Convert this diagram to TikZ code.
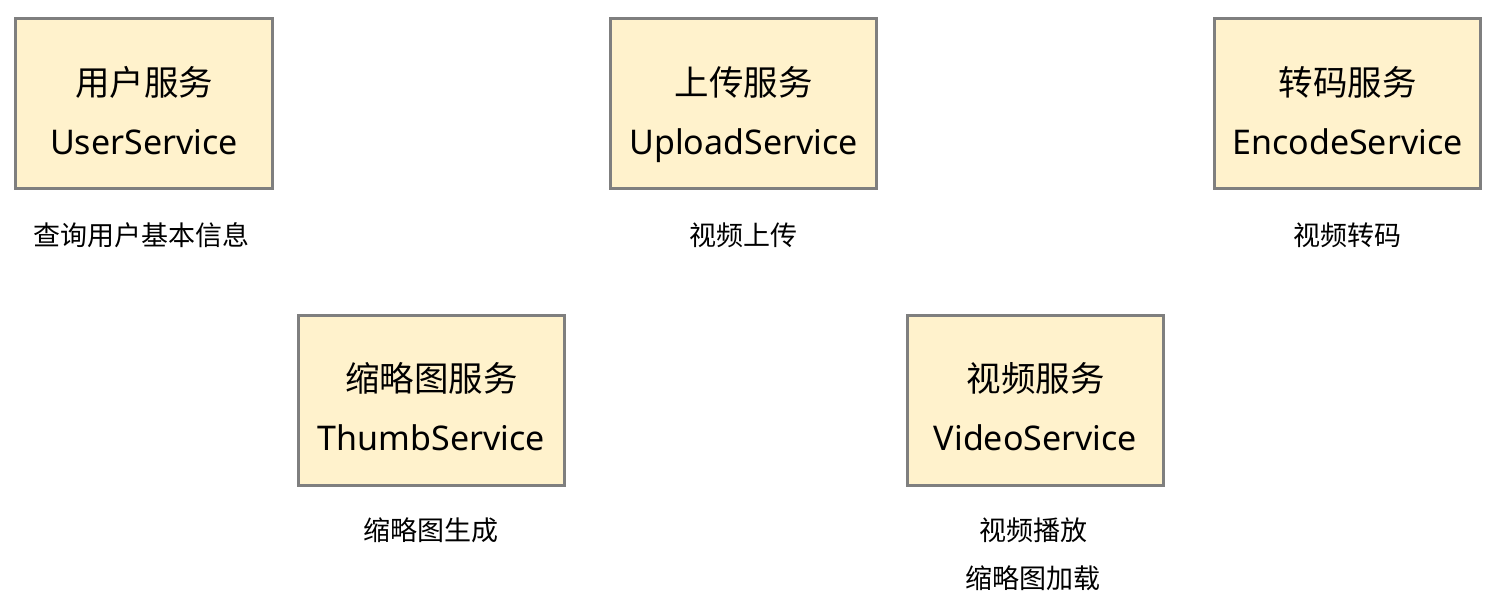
\documentclass[tikz,border=0pt]{standalone}
\usepackage{fontspec}
\setmainfont{Noto Sans}
\newfontfamily\cjk{Noto Sans CJK SC}
\definecolor{boxfill}{HTML}{FFF2CC}
\definecolor{boxline}{HTML}{7F7F7F}
\begin{document}
\begin{tikzpicture}[x=1pt,y=-1pt,
  svc/.style={draw=boxline, line width=3pt, fill=boxfill, inner sep=0pt, minimum height=170pt},
  ttl/.style={inner sep=0pt, font=\cjk\fontsize{34.5}{40}\selectfont},
  eng/.style={inner sep=0pt, anchor=base, font=\fontsize{34}{40}\selectfont},
  lbl/.style={inner sep=0pt, font=\cjk\fontsize{27}{32}\selectfont}]
\useasboundingbox[fill=white] (0,0) rectangle (1492,606);
% row 1
\node[svc, minimum width=257pt] (user) at (144,103.5) {};
\node[ttl] (userT) at (144,82) {用户服务};
\node[eng] (userE) at (144,154) {UserService};
\node[lbl] (userL) at (142,235) {查询用户基本信息};

\node[svc, minimum width=266pt] (upload) at (743.5,103.5) {};
\node[ttl] (uploadT) at (743.5,82) {上传服务};
\node[eng] (uploadE) at (743.5,154) {UploadService};
\node[lbl] (uploadL) at (743,235) {视频上传};

\node[svc, minimum width=266pt] (encode) at (1347.5,103.5) {};
\node[ttl] (encodeT) at (1347.5,82) {转码服务};
\node[eng] (encodeE) at (1347.5,154) {EncodeService};
\node[lbl] (encodeL) at (1347,235) {视频转码};
% row 2
\node[svc, minimum width=266pt] (thumb) at (431.5,400) {};
\node[ttl] (thumbT) at (431.5,378) {缩略图服务};
\node[eng] (thumbE) at (431.5,450) {ThumbService};
\node[lbl] (thumbL) at (431,530) {缩略图生成};

\node[svc, minimum width=256pt] (video) at (1035.5,400) {};
\node[ttl] (videoT) at (1035.5,378) {视频服务};
\node[eng] (videoE) at (1035.5,450) {VideoService};
\node[lbl] (videoL1) at (1033,530) {视频播放};
\node[lbl] (videoL2) at (1033,578) {缩略图加载};
\end{tikzpicture}
\end{document}
